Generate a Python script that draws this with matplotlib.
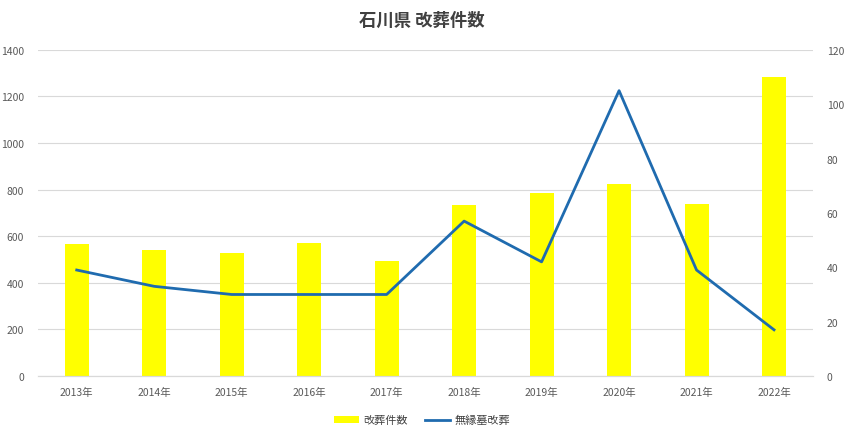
import matplotlib
matplotlib.use("Agg")
import matplotlib.pyplot as plt
import numpy as np

plt.rcParams['font.family'] = ['Noto Sans CJK JP', 'DejaVu Sans']

years = ["2013年", "2014年", "2015年", "2016年", "2017年", "2018年", "2019年", "2020年", "2021年", "2022年"]
kaiso = [566, 542, 529, 569, 492, 734, 787, 823, 737, 1282]
muen = [39, 33, 30, 30, 30, 57, 42, 105, 39, 17]

fig = plt.figure(figsize=(8.44, 4.35), dpi=100)
ax = fig.add_axes([0.045, 0.1333, 0.918, 0.7497])
ax2 = ax.twinx()

x = np.arange(len(years))
ax.bar(x, kaiso, width=0.31, color="#FFFF00", label="改葬件数", zorder=2)
ax2.plot(x, muen, color="#1F6BAF", linewidth=2.0, label="無縁墓改葬", zorder=3)

ax.set_xlim(-0.5, len(years) - 0.5)
ax.set_ylim(0, 1400)
ax.set_yticks(np.arange(0, 1401, 200))
ax2.set_ylim(0, 120)
ax2.set_yticks(np.arange(0, 121, 20))
ax.set_xticks(x)
ax.set_xticklabels(years)

ax.grid(axis='y', color="#D9D9D9", linewidth=0.8, zorder=0)
ax.set_axisbelow(True)
for a in (ax, ax2):
    for s in ('top', 'left', 'right'):
        a.spines[s].set_visible(False)
    a.spines['bottom'].set_color("#D9D9D9")
    a.tick_params(length=0, labelsize=7.5, labelcolor="#595959")
ax.tick_params(axis='x', pad=8)
ax.tick_params(axis='y', pad=10)
ax2.tick_params(axis='y', pad=10)

fig.text(0.5, 0.953, "石川県 改葬件数", ha='center', va='center', fontsize=12.5,
         color="#404040", fontweight='bold')

h1, l1 = ax.get_legend_handles_labels()
h2, l2 = ax2.get_legend_handles_labels()
fig.legend(h1 + h2, l1 + l2, loc='center', bbox_to_anchor=(0.5, 0.032), ncol=2,
           frameon=False, fontsize=8, labelcolor="#404040", handlelength=2.3,
           handleheight=0.5, columnspacing=1.5, handletextpad=0.4)

fig.savefig("out.png", dpi=100)
